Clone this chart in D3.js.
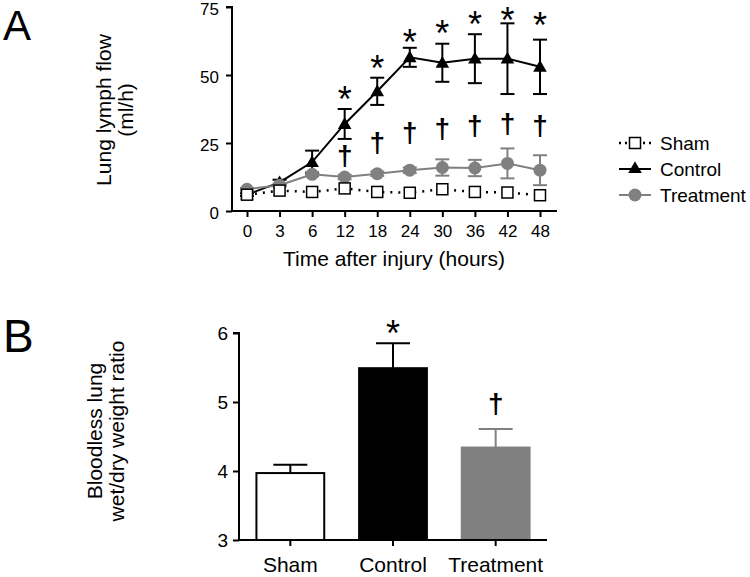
<!DOCTYPE html>
<html><head><meta charset="utf-8">
<script src="https://cdn.jsdelivr.net/npm/d3@7"></script>
<style>body{margin:0;background:#fff}svg{font-family:"Liberation Sans",Arial,sans-serif}</style>
</head><body><svg id="c" width="750" height="577"></svg>
<script>
// Panel A data
const times = ["0","3","6","12","18","24","30","36","42","48"];
const shamMean = [6, 7.5, 7, 8.3, 7, 6.7, 8, 7, 6.8, 5.8];
const controlMean = [6, 10.5, 18, 32, 44, 56.5, 54.5, 56, 56, 53];
const controlErr = [0.5, 1, 4.2, 5.5, 5, 3.5, 7, 9, 13, 10];
const treatMean = [8, 9.5, 13.5, 12.5, 13.7, 15, 16, 15.8, 17.5, 15];
const treatErr = [0.5, 0.5, 0.8, 0.8, 0.8, 1, 3, 3, 5.5, 5.5];
const starTimes = ["12","18","24","30","36","42","48"];
const starY = [44.1, 55.5, 65.1, 68.4, 71.7, 73.2, 71.3];
const daggerTimes = ["12","18","24","30","36","42","48"];
const daggerY = [19.9, 24.6, 28.3, 30.1, 31.2, 31.6, 31.2];
const yTicksA = [0, 25, 50, 75];
const legendNames = ["Sham","Control","Treatment"];
// Panel B data
const groups = ["Sham","Control","Treatment"];
const ratioMean = [3.97, 5.49, 4.34];
const ratioErr = [0.12, 0.36, 0.27];
const yTicksB = [3, 4, 5, 6];

const svg = d3.select("#c");
const gray = "#808080";

function styleAxis(g, fs){
  g.selectAll("line").attr("stroke-width",2);
  g.selectAll("text").attr("font-size",fs).attr("fill","#000");
}

// ---------- Panel A ----------
const xA = d3.scalePoint().domain(times).range([247, 540]);
const yA = d3.scaleLinear().domain([0, 75]).range([211, 7]);
svg.append("g").attr("transform","translate(232,0)")
  .call(d3.axisLeft(yA).tickValues(yTicksA).tickSize(6).tickPadding(7))
  .call(g=>{g.select(".domain").attr("stroke-width",2).attr("d","M-6,7H0V211"); styleAxis(g,17);
    g.selectAll("text").attr("dy","0.42em");});
svg.append("g").attr("transform","translate(0,211)")
  .call(d3.axisBottom(xA).tickSize(6).tickPadding(8))
  .call(g=>{g.select(".domain").attr("stroke-width",2).attr("d","M231,0H557"); styleAxis(g,17);});
svg.append("text").attr("x",394).attr("y",266).attr("text-anchor","middle").attr("font-size",21).text("Time after injury (hours)");
const tA = svg.append("text").attr("transform","translate(111,110) rotate(-90)").attr("text-anchor","middle").attr("font-size",21);
tA.append("tspan").attr("x",0).attr("dy",0).text("Lung lymph flow");
tA.append("tspan").attr("x",0).attr("dy",22).text("(ml/h)");
svg.append("text").attr("x",3).attr("y",40).attr("font-size",42).text("A");

function errBars(g, means, errs, color){
  times.forEach((t,i)=>{
    const x = xA(t), top = yA(means[i]+errs[i]), bot = yA(means[i]-errs[i]);
    g.append("line").attr("x1",x).attr("x2",x).attr("y1",top).attr("y2",bot).attr("stroke",color).attr("stroke-width",2);
    g.append("line").attr("x1",x-7).attr("x2",x+7).attr("y1",top).attr("y2",top).attr("stroke",color).attr("stroke-width",2);
    g.append("line").attr("x1",x-7).attr("x2",x+7).attr("y1",bot).attr("y2",bot).attr("stroke",color).attr("stroke-width",2);
  });
}
const line = d3.line().x((d,i)=>xA(times[i])).y(d=>yA(d));
const tri = d3.symbol().type(d3.symbolTriangle).size(80);
// Control
const gC = svg.append("g");
errBars(gC, controlMean, controlErr, "#000");
gC.append("path").attr("d", line(controlMean)).attr("fill","none").attr("stroke","#000").attr("stroke-width",2);
gC.selectAll("path.m").data(controlMean).join("path").attr("class","m")
  .attr("d",tri).attr("transform",(d,i)=>`translate(${xA(times[i])},${yA(d)+1})`).attr("fill","#000");
// Treatment
const gT = svg.append("g");
errBars(gT, treatMean, treatErr, gray);
gT.append("path").attr("d", line(treatMean)).attr("fill","none").attr("stroke",gray).attr("stroke-width",2);
gT.selectAll("circle").data(treatMean).join("circle").attr("cx",(d,i)=>xA(times[i])).attr("cy",d=>yA(d)).attr("r",6.5).attr("fill",gray);
// Sham
const gS = svg.append("g");
gS.append("path").attr("d", line(shamMean)).attr("fill","none").attr("stroke","#000").attr("stroke-width",2.5).attr("stroke-dasharray","2,6");
gS.selectAll("rect").data(shamMean).join("rect").attr("x",(d,i)=>xA(times[i])-5.5).attr("y",d=>yA(d)-5.5)
  .attr("width",11).attr("height",11).attr("fill","#fff").attr("stroke","#000").attr("stroke-width",1.5);
// Stars and daggers
starTimes.forEach((t,k)=>{
  svg.append("text").attr("x",xA(t)).attr("y",yA(starY[k])).attr("dy","0.58em").attr("text-anchor","middle").attr("font-size",36).text("*");
});
daggerTimes.forEach((t,k)=>{
  svg.append("text").attr("x",xA(t)).attr("y",yA(daggerY[k])).attr("dy","0.3em").attr("text-anchor","middle").attr("font-size",28).attr("font-weight","bold").text("†");
});
// Legend
const legY = d3.scalePoint().domain(legendNames).range([143, 195]);
const lg = svg.append("g");
legendNames.forEach((name,i)=>{
  const y = legY(name);
  if(i===0){
    lg.append("line").attr("x1",619).attr("x2",651).attr("y1",y).attr("y2",y).attr("stroke","#000").attr("stroke-width",2.5).attr("stroke-dasharray","2,4");
    lg.append("rect").attr("x",629.5).attr("y",y-5.5).attr("width",11).attr("height",11).attr("fill","#fff").attr("stroke","#000").attr("stroke-width",1.5);
  } else if(i===1){
    lg.append("line").attr("x1",619).attr("x2",651).attr("y1",y).attr("y2",y).attr("stroke","#000").attr("stroke-width",2);
    lg.append("path").attr("d",tri).attr("transform",`translate(635,${y})`).attr("fill","#000");
  } else {
    lg.append("line").attr("x1",619).attr("x2",651).attr("y1",y).attr("y2",y).attr("stroke",gray).attr("stroke-width",2);
    lg.append("circle").attr("cx",635).attr("cy",y).attr("r",6.5).attr("fill",gray);
  }
  lg.append("text").attr("x",660).attr("y",y).attr("dy","0.35em").attr("font-size",19).text(name);
});

// ---------- Panel B ----------
const xB = d3.scaleBand().domain(groups).range([239, 547]).paddingInner(0.32).paddingOuter(0.16);
const yB = d3.scaleLinear().domain([3, 6]).range([540, 333]);
const barFill = ["#fff","#000",gray];
const barStroke = ["#000","#000",gray];
const gB = svg.append("g");
groups.forEach((gname,i)=>{
  const cx = xB(gname)+xB.bandwidth()/2, top = yB(ratioMean[i]+ratioErr[i]);
  gB.append("line").attr("x1",cx).attr("x2",cx).attr("y1",top).attr("y2",yB(ratioMean[i])).attr("stroke",barStroke[i]).attr("stroke-width",2);
  gB.append("line").attr("x1",cx-17).attr("x2",cx+17).attr("y1",top).attr("y2",top).attr("stroke",barStroke[i]).attr("stroke-width",2);
  gB.append("rect").attr("x",xB(gname)+1).attr("y",yB(ratioMean[i])).attr("width",xB.bandwidth()-2).attr("height",yB(3)-yB(ratioMean[i]))
    .attr("fill",barFill[i]).attr("stroke",barStroke[i]).attr("stroke-width",2);
});
svg.append("g").attr("transform","translate(239,0)")
  .call(d3.axisLeft(yB).tickValues(yTicksB).tickFormat(d3.format("d")).tickSize(6).tickPadding(5))
  .call(g=>{g.select(".domain").attr("stroke-width",2).attr("d","M-6,333H0V540"); styleAxis(g,19);});
svg.append("g").attr("transform","translate(0,540)")
  .call(d3.axisBottom(xB).tickSize(6).tickPadding(11))
  .call(g=>{g.select(".domain").attr("stroke-width",2).attr("d","M238,0H547"); styleAxis(g,21);});
svg.append("text").attr("x",xB("Control")+xB.bandwidth()/2).attr("y",yB(ratioMean[1]+ratioErr[1])-18).attr("dy","0.58em").attr("text-anchor","middle").attr("font-size",36).text("*");
svg.append("text").attr("x",xB("Treatment")+xB.bandwidth()/2).attr("y",yB(ratioMean[2]+ratioErr[2])-24).attr("dy","0.3em").attr("text-anchor","middle").attr("font-size",28).attr("font-weight","bold").text("†");
const tB = svg.append("text").attr("transform","translate(102,431) rotate(-90)").attr("text-anchor","middle").attr("font-size",21);
tB.append("tspan").attr("x",0).attr("dy",0).text("Bloodless lung");
tB.append("tspan").attr("x",0).attr("dy",22).text("wet/dry weight ratio");
svg.append("text").attr("x",3).attr("y",352).attr("font-size",46).text("B");
</script></body></html>
